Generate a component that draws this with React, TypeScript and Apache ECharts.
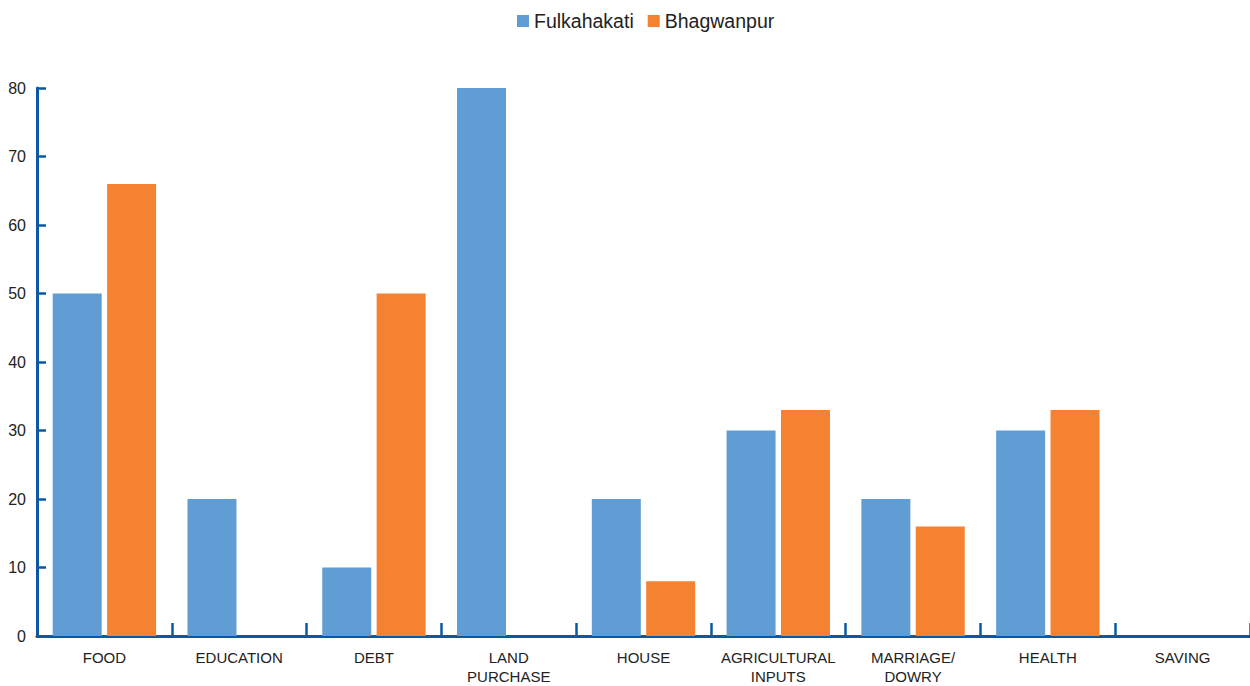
import React, { useEffect, useRef } from "react";
import * as echarts from "echarts";

const categories = [
  "FOOD",
  "EDUCATION",
  "DEBT",
  "LAND\nPURCHASE",
  "HOUSE",
  "AGRICULTURAL\nINPUTS",
  "MARRIAGE/\nDOWRY",
  "HEALTH",
  "SAVING",
];
const fulkahakati = [50, 20, 10, 80, 20, 30, 20, 30, 0];
const bhagwanpur = [66, 0, 50, 0, 8, 33, 16, 33, 0];

const AXIS = "#0a58a3";
const FONT = "'Liberation Sans', Arial, Helvetica, sans-serif";

export default function App() {
  const ref = useRef<HTMLDivElement>(null);
  useEffect(() => {
    const chart = echarts.init(ref.current!, undefined, { renderer: "svg" });
    chart.setOption({
      animation: false,
      textStyle: { fontFamily: FONT },
      legend: {
        top: 6,
        left: 512,
        itemWidth: 12,
        itemHeight: 12,
        itemGap: 14,
        itemTextGap: 5,
        icon: "rect",
        textStyle: { fontSize: 19.5, color: "#222", fontFamily: FONT },
        data: ["Fulkahakati", "Bhagwanpur"],
      },
      grid: { left: 37, right: -2, top: 88, bottom: 48 },
      xAxis: {
        type: "category",
        data: categories,
        axisLine: { show: true, lineStyle: { color: AXIS, width: 3 } },
        axisTick: {
          show: true,
          inside: true,
          alignWithLabel: false,
          interval: 0,
          length: 13,
          lineStyle: { color: AXIS, width: 2.5 },
        },
        axisLabel: {
          color: "#222",
          fontSize: 15,
          fontFamily: FONT,
          lineHeight: 19,
          margin: 12,
          interval: 0,
        },
      },
      yAxis: {
        type: "value",
        min: 0,
        max: 80,
        interval: 10,
        splitLine: { show: false },
        axisLine: { show: true, lineStyle: { color: AXIS, width: 3 } },
        axisTick: { show: true, inside: true, length: 9, lineStyle: { color: AXIS, width: 2.5 } },
        axisLabel: { color: "#222", fontSize: 16, fontFamily: FONT, margin: 11 },
      },
      series: [
        {
          name: "Fulkahakati",
          type: "bar",
          data: fulkahakati,
          itemStyle: { color: "#5f9dd4" },
          barWidth: 49,
          barGap: "11%",
        },
        {
          name: "Bhagwanpur",
          type: "bar",
          data: bhagwanpur,
          itemStyle: { color: "#f58231" },
          barWidth: 49,
          barGap: "11%",
        },
      ],
    });
    return () => chart.dispose();
  }, []);
  return (
    <div
      ref={ref}
      style={{ position: "fixed", left: 0, top: 0, width: 1250, height: 686, background: "#fff" }}
    />
  );
}
